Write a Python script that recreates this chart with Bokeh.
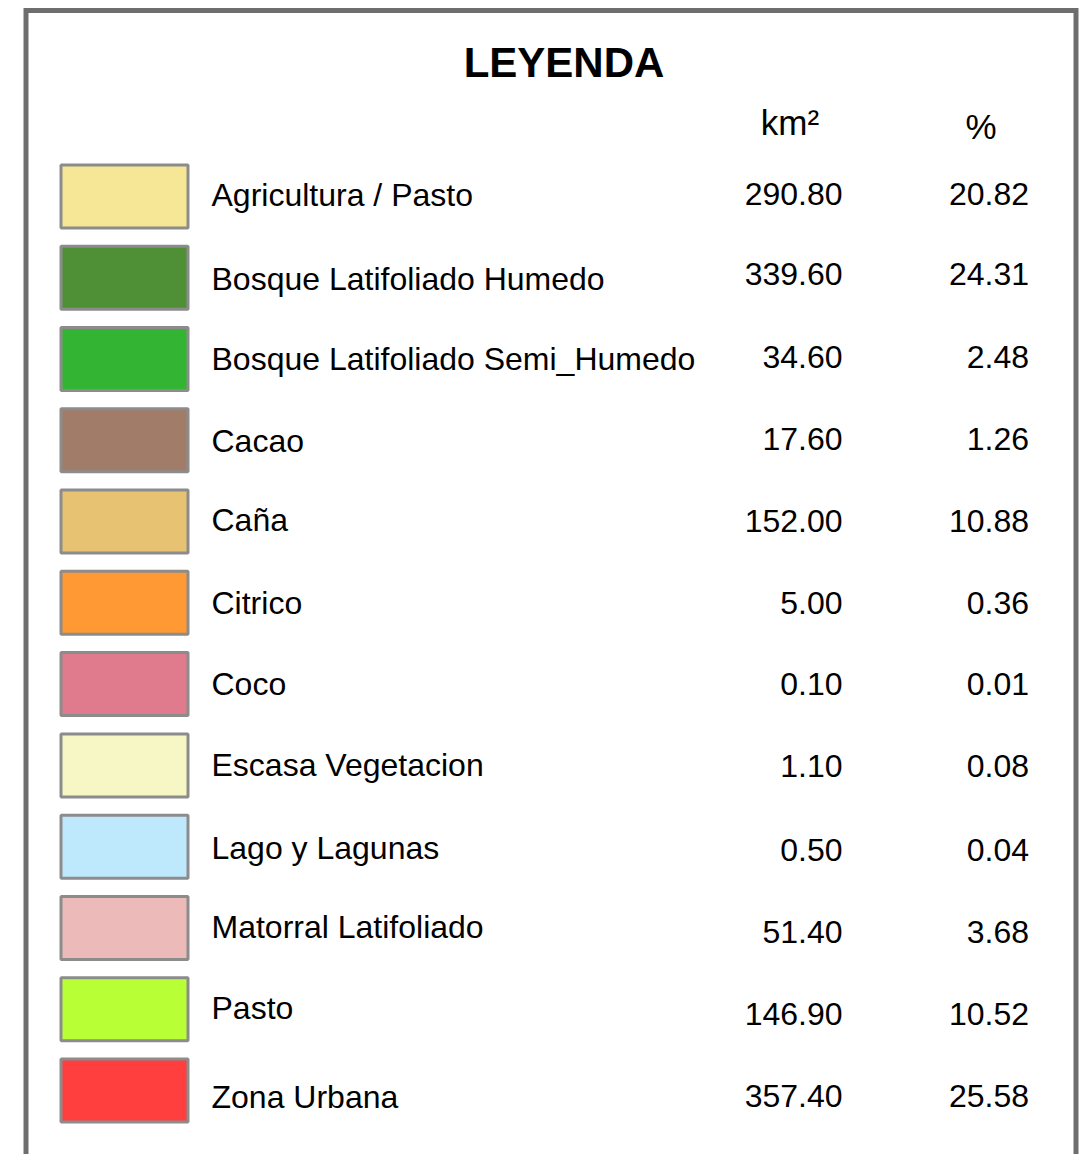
from bokeh.plotting import figure
from bokeh.models import Range1d, ColumnDataSource
from bokeh.embed import file_html
from bokeh.resources import INLINE
from bokeh.core.properties import value

# ---------------- data ----------------
title = "LEYENDA"
col_headers = ["km²", "%"]
categories = [
    "Agricultura / Pasto",
    "Bosque Latifoliado Humedo",
    "Bosque Latifoliado Semi_Humedo",
    "Cacao",
    "Caña",
    "Citrico",
    "Coco",
    "Escasa Vegetacion",
    "Lago y Lagunas",
    "Matorral Latifoliado",
    "Pasto",
    "Zona Urbana",
]
area_km2 = [290.80, 339.60, 34.60, 17.60, 152.00, 5.00, 0.10, 1.10, 0.50, 51.40, 146.90, 357.40]
area_pct = [20.82, 24.31, 2.48, 1.26, 10.88, 0.36, 0.01, 0.08, 0.04, 3.68, 10.52, 25.58]
colors = [
    "#F5E795", "#4F8F35", "#33B533", "#A17C69", "#E6C272", "#FF9933",
    "#E07B8E", "#F7F7C6", "#BEE8FC", "#EDBABA", "#B8FF36", "#FF3E3E",
]

# ---------------- layout (pixel-like coordinates) ----------------
W, H = 1084, 1154
row0, pitch = 196.0, 81.27
label_dy = [0, 2.5, 1, 2, -0.5, 1, 1.5, 1, 3, 0, 0, 8]
value_dy = [-1, -2.5, -1, 0, 0.5, 1, 1.5, 2, 5, 5, 6, 7]
FS = 32
SHIFT = 0.4  # renderer places alphabetic baseline ~0.4em lower


def base(cap_mid, fs):
    """y for a cap-centred line of text of font size fs"""
    return cap_mid + 0.358 * fs - SHIFT * fs


n = len(categories)
centers = [row0 + pitch * i for i in range(n)]

src = ColumnDataSource(dict(
    x=[124.0] * n,
    y=centers,
    color=colors,
    label=categories,
    label_y=[base(c + d, FS) for c, d in zip(centers, label_dy)],
    value_y=[base(c + d, FS) for c, d in zip(centers, value_dy)],
    km2=[f"{v:.2f}" for v in area_km2],
    pct=[f"{v:.2f}" for v in area_pct],
    label_x=[211.0] * n,
    km2_x=[842.0] * n,
    pct_x=[1028.5] * n,
))

p = figure(
    width=W, height=H,
    x_range=Range1d(0, W), y_range=Range1d(H, 0),
    output_backend="svg", toolbar_location=None,
    x_axis_location=None, y_axis_location=None,
    min_border=0, tools="",
)
p.grid.visible = False
p.outline_line_color = None
p.background_fill_color = "white"
p.border_fill_color = "white"

# frame (open at the bottom, as it continues beyond the view)
p.line(x=[25.5, 25.5, 1075.5, 1075.5], y=[1300, 10, 10, 1300],
       line_width=5, line_color="#6E6E6E", line_join="miter")

# swatches
p.rect(x="x", y="y", width=127, height=63, source=src,
       fill_color="color", line_color="#8C8C8C", line_width=3)

font = value("Liberation Sans")

# labels and values
p.text(x="label_x", y="label_y", text="label", source=src,
       text_font=font, text_font_size=f"{FS}px", text_color="#000000",
       text_align="left", text_baseline="alphabetic")
p.text(x="km2_x", y="value_y", text="km2", source=src,
       text_font=font, text_font_size=f"{FS}px", text_color="#000000",
       text_align="right", text_baseline="alphabetic")
p.text(x="pct_x", y="value_y", text="pct", source=src,
       text_font=font, text_font_size=f"{FS}px", text_color="#000000",
       text_align="right", text_baseline="alphabetic")

# title and column headers
p.text(x=[563.5], y=[base(63.3, 42)], text=[title], text_font=font,
       text_font_size="42px", text_font_style="bold", text_color="#000000",
       text_align="center", text_baseline="alphabetic")
p.text(x=[789.5, 980.5], y=[base(123.0, 35), base(127.5, 35)], text=col_headers,
       text_font=font, text_font_size="35px", text_color="#000000",
       text_align="center", text_baseline="alphabetic")

open("out.html", "w").write(file_html(p, INLINE))
